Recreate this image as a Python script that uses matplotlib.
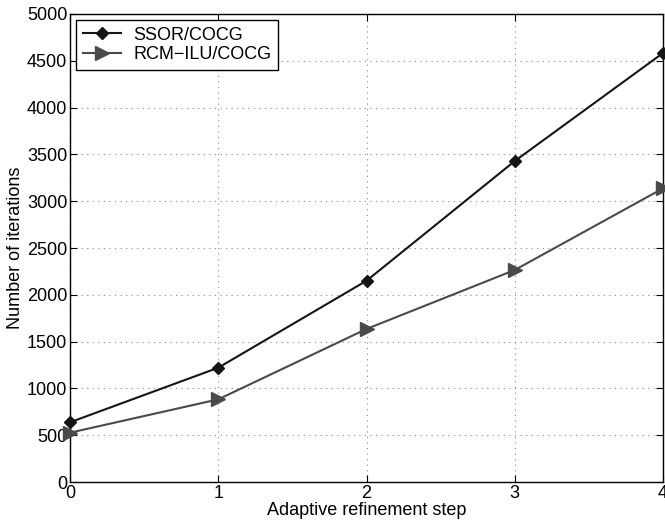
import matplotlib
matplotlib.use("Agg")
import matplotlib.pyplot as plt

steps = [0, 1, 2, 3, 4]
ssor_cocg = [638, 1221, 2150, 3429, 4583]
rcm_ilu_cocg = [527, 883, 1635, 2265, 3137]

plt.rcParams["font.family"] = ["Liberation Sans", "DejaVu Sans"]

fig = plt.figure(figsize=(6.65, 5.28), dpi=100)
ax = fig.add_axes([0.1053, 0.0871, 0.8917, 0.8864])

ax.plot(steps, ssor_cocg, color="#151515", lw=1.5, marker="D", ms=6.5,
        label="SSOR/COCG", clip_on=False, zorder=3)
ax.plot(steps, rcm_ilu_cocg, color="#4a4a4a", lw=1.5, marker=">", ms=10,
        label="RCM\u2212ILU/COCG", clip_on=False, zorder=3)

ax.set_xlim(0, 4)
ax.set_ylim(0, 5000)
ax.set_xticks(steps)
ax.set_yticks(range(0, 5001, 500))
ax.tick_params(direction="in", top=True, right=True, labelsize=13, length=5, pad=2)
ax.grid(True, linestyle=(0, (1, 4)), color="#888888", lw=0.8)
for s in ax.spines.values():
    s.set_linewidth(1.0)

ax.set_xlabel("Adaptive refinement step", fontsize=13, labelpad=0)
ax.set_ylabel("Number of iterations", fontsize=13, labelpad=2)

leg = ax.legend(loc="upper left", fontsize=13, fancybox=False, framealpha=1,
                edgecolor="black", borderaxespad=0.35, handlelength=2.1,
                handletextpad=0.7, borderpad=0.35, labelspacing=0.15)
leg.get_frame().set_linewidth(1.0)

fig.savefig("out.png", dpi=100)
